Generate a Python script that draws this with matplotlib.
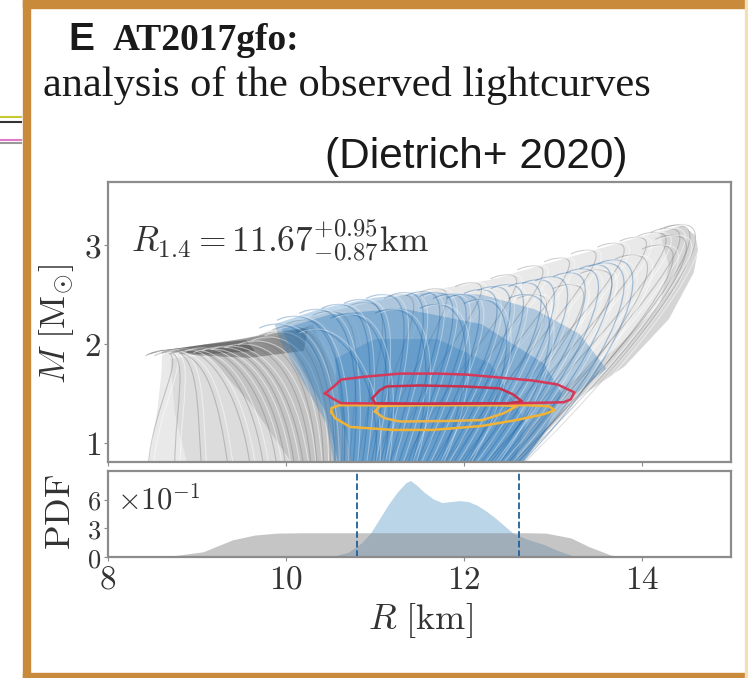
import numpy as np
import matplotlib
matplotlib.use("Agg")
import matplotlib.pyplot as plt
from matplotlib.path import Path
from matplotlib.patches import PathPatch, Rectangle, Polygon
from matplotlib.lines import Line2D
from matplotlib.transforms import Affine2D

plt.rcParams['mathtext.fontset'] = 'cm'
plt.rcParams['font.family'] = ['DejaVu Serif']

# ---- data ----
# mass-radius curves: radius at bottom, lean of first control, radius at Mmax, Mmax, bulge
gray_r0 = [8.45, 8.75, 9.05, 9.35, 9.6, 9.75, 9.9, 10.0, 10.1, 10.2, 10.28, 10.35, 10.42, 10.5,
           10.55, 10.62, 10.7, 10.8, 10.9, 11.0, 11.15, 11.3, 11.45, 11.6, 11.75, 11.9, 12.05,
           12.2, 12.35, 12.5, 12.62, 12.4, 12.2, 12.0, 12.5, 11.8, 12.55]
gray_a = [0.05, 0.0, -0.05, -0.1, -0.1, -0.1, -0.1, -0.1, -0.1, -0.1, -0.05, -0.05, 0.0, 0.0,
          0.05, 0.05, 0.1, 0.15, 0.2, 0.3, 0.4, 0.6, 0.7, 0.8, 0.95, 1.1, 1.2,
          1.3, 1.4, 1.5, 1.55, 1.3, 1.1, 1.0, 1.4, 0.8, 1.5]
gray_rt = [8.62, 8.64, 8.68, 8.72, 8.8, 8.9, 9.0, 9.1, 9.2, 9.3, 9.45, 9.6, 9.75, 9.9,
           10.05, 10.2, 10.5, 10.9, 11.3, 11.7, 12.1, 12.5, 12.8, 13.1, 13.4, 13.7, 13.95,
           14.15, 14.3, 14.4, 14.45, 13.9, 13.5, 13.2, 14.2, 12.8, 14.35]
gray_mmax = [1.92, 1.93, 1.94, 1.92, 1.95, 1.94, 1.96, 1.95, 1.97, 1.98, 2.0, 2.03, 2.07, 2.12,
             2.18, 2.24, 2.33, 2.42, 2.5, 2.56, 2.62, 2.7, 2.79, 2.87, 2.95, 3.02, 3.08,
             3.13, 3.17, 3.2, 3.21, 2.9, 2.75, 2.6, 3.0, 2.5, 3.1]
gray_b = [0.3, 0.3, 0.35, 0.4, 0.4, 0.45, 0.45, 0.5, 0.5, 0.5, 0.5, 0.5, 0.45, 0.4,
          0.4, 0.4, 0.4, 0.4, 0.4, 0.4, 0.4, 0.4, 0.4, 0.4, 0.4, 0.45, 0.45,
          0.5, 0.5, 0.5, 0.5, 0.5, 0.5, 0.45, 0.5, 0.4, 0.5]

blue_r0 = [10.55, 10.65, 10.75, 10.85, 10.95, 11.05, 11.15, 11.25, 11.35, 11.45, 11.55, 11.65,
           11.75, 11.85, 11.95, 12.05, 12.15, 12.25, 12.35, 12.45, 12.55, 12.6,
           11.1, 11.4, 11.7, 12.0, 12.3, 11.0]
blue_a = [0.0, 0.05, 0.1, 0.15, 0.2, 0.25, 0.3, 0.35, 0.4, 0.45, 0.5, 0.6,
          0.65, 0.7, 0.8, 0.85, 0.9, 1.0, 1.05, 1.1, 1.2, 1.25,
          0.15, 0.3, 0.45, 0.6, 0.8, 0.1]
blue_rt = [9.9, 10.1, 10.35, 10.6, 10.85, 11.1, 11.35, 11.55, 11.7, 11.85, 12.0, 12.2,
           12.35, 12.5, 12.7, 12.85, 13.0, 13.2, 13.35, 13.5, 13.6, 13.7,
           10.7, 11.2, 11.7, 12.2, 12.7, 10.3]
blue_mmax = [2.2, 2.28, 2.35, 2.4, 2.45, 2.5, 2.52, 2.53, 2.52, 2.5, 2.5, 2.55,
             2.58, 2.6, 2.62, 2.65, 2.68, 2.72, 2.76, 2.8, 2.82, 2.85,
             2.3, 2.35, 2.4, 2.45, 2.5, 2.15]
blue_b = [0.45, 0.45, 0.4, 0.4, 0.4, 0.4, 0.4, 0.4, 0.4, 0.4, 0.4, 0.4,
          0.4, 0.4, 0.4, 0.4, 0.4, 0.4, 0.4, 0.4, 0.45, 0.45,
          0.4, 0.4, 0.4, 0.4, 0.4, 0.4]

# density layers of the two bundles (R, M outlines)
gray_env_r = [8.45, 8.55, 8.6, 8.61, 8.92, 9.3, 9.65, 10.0, 10.6, 11.35, 12.3, 12.8, 13.5, 14.15,
              14.45, 14.6, 14.63, 14.58, 14.3, 13.8, 13.3, 12.92, 12.62]
gray_env_m = [0.75, 1.3, 1.7, 1.92, 1.97, 2.02, 2.08, 2.2, 2.35, 2.5, 2.65, 2.78, 2.96, 3.13,
              3.2, 3.1, 2.95, 2.72, 2.25, 1.77, 1.46, 1.1, 0.75]
mid_r = [8.9, 8.75, 8.7, 9.4, 10.3, 10.75, 10.2]
mid_m = [0.75, 1.3, 1.85, 1.92, 2.1, 0.75, 0.75]
band_r = [9.1, 9.8, 10.3, 10.6, 10.75, 10.1, 9.6]
band_m = [1.9, 2.05, 2.2, 1.6, 0.75, 0.75, 1.4]
edge_r = [12.62, 12.92, 13.3, 13.8, 14.3, 14.58, 14.63, 14.6, 14.45, 14.2, 14.3, 14.2, 13.7, 13.1, 12.7, 12.45]
edge_m = [0.75, 1.1, 1.46, 1.77, 2.25, 2.72, 2.95, 3.1, 3.2, 3.12, 2.8, 2.4, 1.95, 1.55, 1.15, 0.75]
beak_r = [8.58, 9.0, 9.5, 9.9, 10.25, 10.2, 9.6, 9.0]
beak_m = [1.93, 1.985, 2.05, 2.12, 2.17, 1.93, 1.86, 1.885]
tip_r = [8.58, 9.1, 9.55, 9.65, 9.1]
tip_m = [1.93, 1.995, 2.04, 1.93, 1.895]

blue_env_r = [10.55, 10.45, 10.2, 9.95, 9.87, 10.4, 11.0, 11.6, 12.2, 12.8, 13.3, 13.6, 13.2, 12.9, 12.62]
blue_env_m = [0.75, 1.2, 1.6, 2.0, 2.2, 2.36, 2.47, 2.52, 2.5, 2.35, 2.1, 1.75, 1.45, 1.1, 0.75]
blue_core_r = [10.6, 10.45, 10.15, 9.95, 10.5, 11.3, 12.2, 12.9, 13.1, 12.9, 12.62]
blue_core_m = [0.75, 1.3, 1.8, 2.15, 2.3, 2.36, 2.2, 1.8, 1.5, 1.1, 0.75]
blue_inner_r = [10.75, 10.6, 10.55, 11.0, 11.7, 12.3, 12.7, 12.55]
blue_inner_m = [0.75, 1.35, 1.85, 2.05, 2.05, 1.8, 1.2, 0.75]

# credible contours (R [km], M [Msun])
red_out_r = [10.44, 10.55, 10.62, 10.9, 11.28, 11.7, 12.03, 12.4, 12.77, 13.05, 13.24, 13.2, 13.12, 12.6, 11.5, 10.62, 10.52, 10.44]
red_out_m = [1.50, 1.58, 1.64, 1.67, 1.70, 1.70, 1.69, 1.66, 1.63, 1.59, 1.51, 1.44, 1.41, 1.40, 1.395, 1.40, 1.45, 1.50]
red_in_r = [10.97, 11.05, 11.13, 11.5, 12.0, 12.4, 12.55, 12.65, 12.5, 11.5, 11.0, 10.97]
red_in_m = [1.45, 1.53, 1.57, 1.58, 1.57, 1.55, 1.49, 1.42, 1.40, 1.395, 1.40, 1.45]
org_out_r = [10.51, 10.55, 10.72, 11.2, 11.65, 12.2, 12.59, 12.9, 13.02, 12.95, 12.7, 11.5, 10.6, 10.51, 10.51]
org_out_m = [1.31, 1.25, 1.16, 1.13, 1.13, 1.17, 1.23, 1.29, 1.33, 1.37, 1.38, 1.38, 1.38, 1.35, 1.31]
org_in_r = [11.0, 11.1, 11.28, 11.8, 12.21, 12.45, 12.59, 12.4, 11.5, 11.05, 11.0]
org_in_m = [1.316, 1.25, 1.215, 1.22, 1.23, 1.3, 1.37, 1.385, 1.385, 1.37, 1.316]

# PDF of R (units of 1/km)
prior_r = [8.5, 8.67, 9.07, 9.4, 9.65, 9.9, 10.2, 12.7, 12.92, 13.2, 13.4, 13.65, 13.85, 14.0]
prior_pdf = [0.0, 0.005, 0.055, 0.18, 0.23, 0.25, 0.254, 0.254, 0.25, 0.2, 0.11, 0.02, 0.0, 0.0]
post_r = [10.5, 10.7, 10.85, 10.95, 11.05, 11.15, 11.25, 11.35, 11.4, 11.47, 11.55, 11.65, 11.75,
          11.85, 11.95, 12.05, 12.15, 12.25, 12.35, 12.45, 12.55, 12.7, 12.9, 13.05, 13.2, 13.3]
post_pdf = [0.0, 0.05, 0.15, 0.25, 0.40, 0.55, 0.68, 0.78, 0.80, 0.75, 0.68, 0.61, 0.57,
            0.58, 0.59, 0.58, 0.54, 0.48, 0.41, 0.33, 0.25, 0.19, 0.13, 0.07, 0.02, 0.0]
r14_med, r14_lo, r14_hi = 11.67, 10.80, 12.62

x_ticks = [8, 10, 12, 14]
m_ticks = [1, 2, 3]
pdf_ticks = [0, 0.3, 0.6]
pdf_tick_labels = ['0', '3', '6']


def mr_path(r0, a, rt, mm, b, m0=0.75):
    verts = [(r0, m0), (r0 + a, m0 + 0.55 * (mm - m0)), (rt + b, mm), (rt, mm),
             (rt - 0.12, mm), (rt - 0.2, mm - 0.04)]
    codes = [Path.MOVETO, Path.CURVE4, Path.CURVE4, Path.CURVE4, Path.CURVE3, Path.CURVE3]
    return Path(verts, codes)


def poly(ax, r, m, **kw):
    ax.add_patch(Polygon(list(zip(r, m)), closed=True, edgecolor='none', **kw))


W, H = 748, 678
fig = plt.figure(figsize=(W / 100, H / 100), dpi=100)
fig.patch.set_facecolor('white')


def fx(px):
    return px / W


def fy(py):
    return 1 - py / H


# frame of the panel
border = '#c98a3c'
fig.patches.append(Rectangle((fx(23), 0), fx(7), 1, transform=fig.transFigure, color=border, zorder=0))
fig.patches.append(Rectangle((fx(23), fy(8)), 1, 8 / H, transform=fig.transFigure, color=border, zorder=0))
fig.patches.append(Rectangle((fx(23), 0), 1, 5 / H, transform=fig.transFigure, color=border, zorder=0))
fig.patches.append(Rectangle((fx(745), 0), fx(2), 1, transform=fig.transFigure, color='#f2dfb5', zorder=0))
# bits of the neighbouring panel
for yy, col in [(117, '#c8c832'), (122, '#333333'), (140, '#e07ac8'), (143, '#999999')]:
    fig.lines.append(Line2D([0, fx(21)], [fy(yy), fy(yy)], transform=fig.transFigure, color=col, lw=1.5))

# titles
fig.text(fx(68), fy(50), 'E', fontsize=28, fontweight='bold', family='Liberation Sans', color='#1a1a1a')
fig.text(fx(113), fy(50), 'AT2017gfo:', fontsize=27, fontweight='bold', family='Liberation Serif', color='#1a1a1a')
fig.text(fx(43), fy(96), 'analysis of the observed lightcurves', fontsize=30.5, family='Liberation Serif', color='#1a1a1a')
fig.text(fx(325), fy(168), '(Dietrich+ 2020)', fontsize=30.5, family='Liberation Sans', color='#1a1a1a')

ax = fig.add_axes([fx(108), fy(462), fx(731) - fx(108), fy(182) - fy(462)])
axp = fig.add_axes([fx(108), fy(557), fx(731) - fx(108), fy(471) - fy(557)])

# ---- M-R panel ----
poly(ax, gray_env_r, gray_env_m, facecolor='#e9e9e9', zorder=1)
poly(ax, mid_r, mid_m, facecolor='#c4c4c4', alpha=0.35, zorder=1.05)
poly(ax, band_r, band_m, facecolor='#9a9a9a', alpha=0.35, zorder=1.1)
poly(ax, edge_r, edge_m, facecolor='#a8a8a8', alpha=0.3, zorder=1.1)
poly(ax, beak_r, beak_m, facecolor='#606060', alpha=0.55, zorder=1.2)
poly(ax, tip_r, tip_m, facecolor='#404040', alpha=0.5, zorder=1.3)
for i in range(len(gray_r0)):
    p = mr_path(gray_r0[i], gray_a[i], gray_rt[i], gray_mmax[i], gray_b[i])
    ax.add_patch(PathPatch(p, facecolor='none', edgecolor='#707070', lw=0.8, alpha=0.35, zorder=2))
    ax.add_patch(PathPatch(p.transformed(Affine2D().translate(0.06, 0)),
                           facecolor='none', edgecolor='white', lw=0.8, alpha=0.5, zorder=2))

poly(ax, blue_env_r, blue_env_m, facecolor='#2b7bbf', alpha=0.3, zorder=3)
poly(ax, blue_core_r, blue_core_m, facecolor='#2b7bbf', alpha=0.35, zorder=3.1)
poly(ax, blue_inner_r, blue_inner_m, facecolor='#2b7bbf', alpha=0.3, zorder=3.2)
for i in range(len(blue_r0)):
    p = mr_path(blue_r0[i], blue_a[i], blue_rt[i], blue_mmax[i], blue_b[i])
    ax.add_patch(PathPatch(p, facecolor='none', edgecolor='#1d64a8', lw=0.9, alpha=0.35, zorder=4))
    ax.add_patch(PathPatch(p.transformed(Affine2D().translate(0.05, 0)),
                           facecolor='none', edgecolor='white', lw=0.8, alpha=0.35, zorder=4))

ax.plot(org_out_r, org_out_m, color='#f2b335', lw=1.8, zorder=6)
ax.plot(org_in_r, org_in_m, color='#eeb340', lw=1.8, zorder=6)
ax.plot(red_out_r, red_out_m, color='#d6385a', lw=1.8, zorder=7)
ax.plot(red_in_r, red_in_m, color='#c9304e', lw=1.8, zorder=7)

ax.text(0.037, 0.75, r'$R_{1.4} = %.2f^{+%.2f}_{-%.2f}\mathrm{km}$' % (r14_med, r14_hi - r14_med, r14_med - r14_lo),
        transform=ax.transAxes, fontsize=25.5, color='#333333', va='baseline', zorder=10)

ax.set_xlim(8, 15)
ax.set_ylim(0.805, 3.64)
ax.set_xticks(x_ticks)
ax.set_xticklabels([])
ax.set_yticks(m_ticks)
ax.set_yticklabels(['$%d$' % t for t in m_ticks])

# ---- PDF panel ----
axp.fill_between(post_r, post_pdf, color='#1f77b4', alpha=0.3, lw=0)
axp.fill_between(prior_r, prior_pdf, color='#808080', alpha=0.45, lw=0)
for r in (r14_lo, r14_hi):
    axp.axvline(r, color='#1f5f9a', ls='--', lw=1.3)
axp.set_xlim(8, 15)
axp.set_ylim(0, 0.9)
axp.set_xticks(x_ticks)
axp.set_xticklabels(['$%d$' % t for t in x_ticks])
axp.set_yticks(pdf_ticks)
axp.set_yticklabels(['$%s$' % t for t in pdf_tick_labels])
axp.text(0.015, 0.55, r'$\times10^{-1}$', transform=axp.transAxes, fontsize=22, color='#333333', va='baseline')

for a in (ax, axp):
    for s in a.spines.values():
        s.set_color('#8c8c8c')
        s.set_linewidth(1.6)
        s.set_zorder(8)
    a.tick_params(direction='out', length=3, width=0.8, color='#8c8c8c', labelsize=24,
                  labelcolor='#333333', pad=2)
axp.tick_params(axis='y', labelsize=19, pad=2)

fig.text(fx(57), fy(324), r'$M\ [\mathrm{M}_{\odot}]$', rotation=90, fontsize=26, color='#333333', ha='center', va='center')
fig.text(fx(60), fy(512), r'$\mathrm{PDF}$', rotation=90, fontsize=26, color='#333333', ha='center', va='center')
fig.text(fx(420), fy(621), r'$R\ [\mathrm{km}]$', fontsize=26, color='#333333', ha='center', va='center')

fig.savefig('out.png', dpi=100)
